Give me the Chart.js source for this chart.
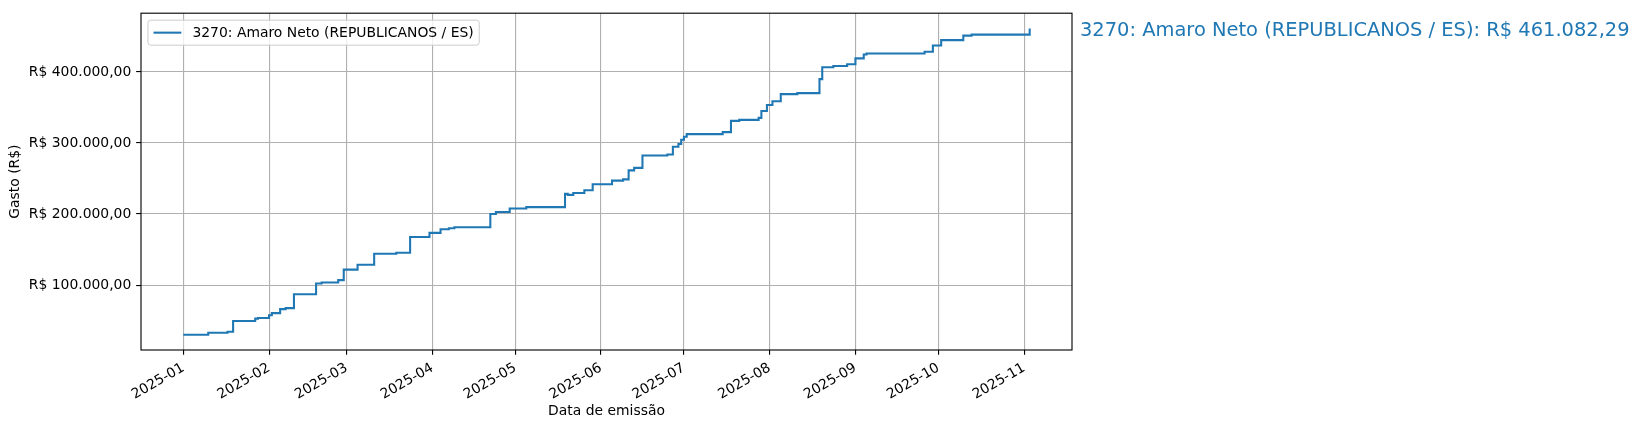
<!DOCTYPE html>
<html>
<head>
<meta charset="utf-8">
<script src="https://cdn.jsdelivr.net/npm/chart.js@4.4.1/dist/chart.umd.min.js"></script>
<style>
  html, body { margin: 0; padding: 0; background: #fff; }
  #wrap { width: 1639px; height: 430px; }
</style>
</head>
<body>
<div id="wrap"><canvas id="gastoChart" width="1639" height="430"></canvas></div>
<script>
const deputado = '3270: Amaro Neto (REPUBLICANOS / ES)';

// data de emissão de cada despesa e gasto acumulado (R$) após ela
const dates = [
    '2025-01-01', '2025-01-10', '2025-01-17', '2025-01-19', '2025-01-27', '2025-01-28',
    '2025-02-01', '2025-02-02', '2025-02-05', '2025-02-07', '2025-02-10', '2025-02-18',
    '2025-02-20', '2025-02-26', '2025-02-28', '2025-03-05', '2025-03-11', '2025-03-19',
    '2025-03-24', '2025-03-31', '2025-04-04', '2025-04-07', '2025-04-09', '2025-04-22',
    '2025-04-24', '2025-04-29', '2025-05-05', '2025-05-19', '2025-05-20', '2025-05-22',
    '2025-05-26', '2025-05-29', '2025-06-05', '2025-06-09', '2025-06-11', '2025-06-13',
    '2025-06-16', '2025-06-25', '2025-06-27', '2025-06-29', '2025-06-30', '2025-07-01',
    '2025-07-02', '2025-07-15', '2025-07-18', '2025-07-21', '2025-07-28', '2025-07-29',
    '2025-07-31', '2025-08-02', '2025-08-05', '2025-08-11', '2025-08-19', '2025-08-20',
    '2025-08-24', '2025-08-29', '2025-09-01', '2025-09-04', '2025-09-05', '2025-09-26',
    '2025-09-29', '2025-10-02', '2025-10-10', '2025-10-13', '2025-11-03'
];
const totals = [
    30200, 32900, 34300, 49500, 52800, 53700,
    57500, 60600, 66200, 67600, 87000, 102300,
    103700, 107000, 121800, 128700, 144000, 145400,
    167600, 173500, 178700, 180000, 181500, 200000,
    202800, 207900, 209700, 228400, 227000, 229700,
    233500, 241800, 247000, 248800, 261400, 265000,
    282300, 283700, 294800, 298600, 304600, 308800,
    312500, 315300, 331100, 332500, 335300, 345000,
    353400, 358600, 368800, 370200, 389800, 406500,
    408400, 410700, 419000, 424600, 426000, 428400,
    437200, 444700, 451100, 452500, 461082.29
];

const monthTicks = ['2025-01', '2025-02', '2025-03', '2025-04', '2025-05', '2025-06',
                    '2025-07', '2025-08', '2025-09', '2025-10', '2025-11'];
const valueTicks = [100000, 200000, 300000, 400000];

function brl(v) {
    const [inteiro, dec] = Math.abs(v).toFixed(2).split('.');
    return 'R$ ' + (v < 0 ? '-' : '') + inteiro.replace(/\B(?=(\d{3})+(?!\d))/g, '.') + ',' + dec;
}

const points = dates.map((d, i) => ({x: Date.parse(d), y: totals[i]}));

// margens de 5% como no matplotlib
const xs = points.map(p => p.x);
const xSpan = Math.max(...xs) - Math.min(...xs);
const ySpan = Math.max(...totals) - Math.min(...totals);
const xMin = Math.min(...xs) - 0.05 * xSpan;
const xMax = Math.max(...xs) + 0.05 * xSpan;
const yMin = Math.min(...totals) - 0.05 * ySpan;
const yMax = Math.max(...totals) + 0.05 * ySpan;

const EM = 13.9;
const PT = 100 / 72;
const FONT = '"DejaVu Sans", sans-serif';

const framePlugin = {
    id: 'frameLegend',
    afterDatasetsDraw(chart) {
        const {ctx, chartArea: a} = chart;
        const yScale = chart.scales.y;
        ctx.save();

        // moldura
        ctx.strokeStyle = '#000';
        ctx.lineWidth = 0.8 * PT;
        ctx.strokeRect(a.left, a.top, a.right - a.left, a.bottom - a.top);

        // legenda
        ctx.font = EM + 'px ' + FONT;
        const tw = ctx.measureText(deputado).width;
        const bx = a.left + 0.5 * EM;
        const by = a.top + 0.5 * EM;
        const bw = 0.4 * EM + 2 * EM + 0.8 * EM + tw + 0.4 * EM;
        const bh = 1.8 * EM;
        ctx.beginPath();
        ctx.roundRect(bx, by, bw, bh, 0.2 * EM);
        ctx.fillStyle = 'rgba(255,255,255,0.8)';
        ctx.fill();
        ctx.strokeStyle = '#cccccc';
        ctx.lineWidth = 1;
        ctx.stroke();

        const my = by + bh / 2;
        ctx.beginPath();
        ctx.moveTo(bx + 0.4 * EM, my);
        ctx.lineTo(bx + 2.4 * EM, my);
        ctx.strokeStyle = '#1f77b4';
        ctx.lineWidth = 1.5 * PT;
        ctx.stroke();

        ctx.fillStyle = '#000';
        ctx.textBaseline = 'middle';
        ctx.textAlign = 'left';
        ctx.fillText(deputado, bx + 3.2 * EM, my + 1);

        // total final à direita
        const last = totals[totals.length - 1];
        ctx.font = (EM * 1.4) + 'px ' + FONT;
        ctx.fillStyle = '#1f77b4';
        ctx.fillText(deputado + ': ' + brl(last), a.right + 8, yScale.getPixelForValue(last) + 2);

        ctx.restore();
    }
};

Chart.defaults.font.family = FONT;
Chart.defaults.font.size = EM;
Chart.defaults.color = '#000';

const gridStyle = {color: '#b0b0b0', lineWidth: 0.8 * PT, tickLength: 3.5 * PT, tickColor: '#000', tickWidth: 0.8 * PT};

const graphContext = document.getElementById('gastoChart').getContext('2d');
new Chart(graphContext, {
    type: 'line',
    data: {
        datasets: [{
            label: deputado,
            data: points,
            borderColor: '#1f77b4',
            borderWidth: 1.5 * PT,
            pointRadius: 0,
            stepped: 'before',
            fill: false
        }]
    },
    options: {
        responsive: false,
        animation: false,
        devicePixelRatio: 1,
        layout: {
            padding: {top: 10, right: 567, left: 0, bottom: 0}
        },
        plugins: {
            legend: {display: false},
            tooltip: {enabled: false}
        },
        scales: {
            x: {
                type: 'linear',
                min: xMin,
                max: xMax,
                afterBuildTicks: s => { s.ticks = monthTicks.map(m => ({value: Date.parse(m + '-01')})); },
                afterFit: s => { s.height = 80; },
                ticks: {
                    autoSkip: false,
                    minRotation: 30,
                    maxRotation: 30,
                    padding: 3.5 * PT,
                    callback: (v, i) => monthTicks[i]
                },
                grid: gridStyle,
                border: {display: false},
                title: {
                    display: true,
                    text: 'Data de emissão',
                    padding: {top: 0, bottom: 10}
                }
            },
            y: {
                min: yMin,
                max: yMax,
                afterBuildTicks: s => { s.ticks = valueTicks.map(v => ({value: v})); },
                afterFit: s => { s.width = 141; },
                ticks: {
                    padding: 3.5 * PT,
                    callback: v => brl(v)
                },
                grid: gridStyle,
                border: {display: false},
                title: {
                    display: true,
                    text: 'Gasto (R$)',
                    padding: {top: 7, bottom: 0}
                }
            }
        }
    },
    plugins: [framePlugin]
});
</script>
</body>
</html>
